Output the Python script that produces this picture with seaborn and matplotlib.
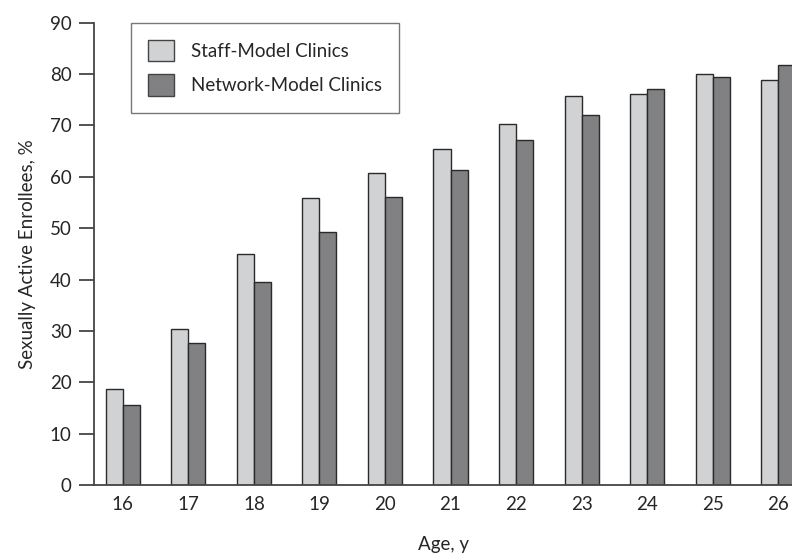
import pandas as pd
import matplotlib
matplotlib.use('Agg')
import matplotlib.pyplot as plt
import seaborn as sns

ages = ['16', '17', '18', '19', '20', '21', '22', '23', '24', '25', '26']
staff_model = [18.6, 30.3, 45.0, 55.9, 60.7, 65.5, 70.3, 75.8, 76.2, 80.0, 78.9]
network_model = [15.5, 27.7, 39.5, 49.3, 56.0, 61.3, 67.2, 72.1, 77.0, 79.4, 81.8]
series_names = ['Staff-Model Clinics', 'Network-Model Clinics']

df = pd.DataFrame({
    'Age': ages * 2,
    'Percent': staff_model + network_model,
    'Clinic': [series_names[0]] * len(ages) + [series_names[1]] * len(ages),
})

sns.set_style('white')
plt.rcParams['font.family'] = ['Lato', 'DejaVu Sans']

fig = plt.figure(figsize=(7.92, 5.58), dpi=100)
ax = fig.add_axes([94 / 792, 1 - 485 / 558, 1 - 94 / 792, (485 - 22.7) / 558])

sns.barplot(data=df, x='Age', y='Percent', hue='Clinic', order=ages,
            hue_order=series_names, palette=['#d1d2d4', '#808185'],
            width=0.52, edgecolor='#2a2a2a', linewidth=1.0, ax=ax)

ax.set_ylim(0, 90)
ax.set_xlim(-0.44, 10.21)
ax.set_yticks(range(0, 91, 10))

for side in ['top', 'right']:
    ax.spines[side].set_visible(False)
for side in ['left', 'bottom']:
    ax.spines[side].set_color('#444444')
    ax.spines[side].set_linewidth(1.3)

fs = 13.5
ax.tick_params(axis='y', direction='out', length=11, width=1.3, color='#444444',
               labelsize=fs, pad=5, left=True)
ax.tick_params(axis='x', length=0, labelsize=fs, pad=8)

ax.set_xlabel('Age, y', fontsize=fs)
ax.xaxis.set_label_coords(0.5, -0.11)
ax.set_ylabel('Sexually Active Enrollees, %', fontsize=fs, labelpad=10)

leg = ax.legend(loc='upper left', bbox_to_anchor=(0.053, 1.0), borderaxespad=0,
                frameon=True, fancybox=False, edgecolor='#555555', fontsize=fs,
                handlelength=1.4, handleheight=1.4, borderpad=0.9, labelspacing=0.7,
                handletextpad=0.9)
leg.get_frame().set_linewidth(1.0)
for h in leg.legend_handles:
    h.set_edgecolor('#444444')
    h.set_linewidth(1.0)

fig.savefig('out.png', dpi=100)
